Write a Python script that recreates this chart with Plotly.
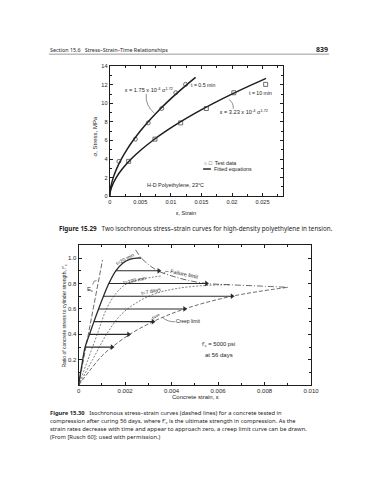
import plotly.graph_objects as go

W, H = 368, 480

# ---------------- Figure 15.29 data ----------------
stress_a = [0, 0.5, 1, 2, 3, 4, 5, 6, 7, 8, 9, 10, 11, 12, 12.8]
strain_a = [0, 0.000053, 0.000175, 0.000576, 0.001158, 0.001899, 0.002788, 0.003815,
            0.004974, 0.006257, 0.007661, 0.009184, 0.01082, 0.01257, 0.01404]
stress_b = [0, 0.5, 1, 2, 3, 4, 5, 6, 7, 8, 9, 10, 11, 12, 12.7]
strain_b = [0, 0.000098, 0.000323, 0.001064, 0.002137, 0.003505, 0.005145, 0.007041,
            0.00918, 0.01155, 0.01414, 0.01695, 0.01997, 0.02319, 0.02557]
test_a_strain = [0.0015, 0.0042, 0.0063, 0.0085, 0.0108, 0.0124]
test_a_stress = [3.75, 6.15, 7.9, 9.45, 11.15, 12.05]
test_b_strain = [0.0031, 0.0074, 0.0116, 0.0158, 0.0203, 0.0255]
test_b_stress = [3.75, 6.15, 7.9, 9.45, 11.15, 12.05]
x1_ticks = [0, 0.005, 0.01, 0.015, 0.02, 0.025]
x1_labels = ["0", "0.005", "0.01", "0.015", "0.02", "0.025"]
y1_ticks = [0, 2, 4, 6, 8, 10, 12, 14]

# ---------------- Figure 15.30 data ----------------
inst_strain = [0, 0.00005, 0.00015, 0.00028, 0.00047, 0.00066, 0.00086, 0.00107,
               0.0013, 0.0016, 0.0019, 0.0022, 0.0025, 0.0027]
inst_ratio = [0, 0.06, 0.17, 0.3, 0.4, 0.5, 0.6, 0.7, 0.8, 0.9, 0.96, 0.99, 1.0, 1.0]
ec_strain = [0, 0.00103]
ec_ratio = [0, 0.985]
t100_strain = [0, 0.0004, 0.0008, 0.0012, 0.0016, 0.002, 0.0026, 0.0032, 0.0036]
t100_ratio = [0, 0.2, 0.4, 0.6, 0.72, 0.79, 0.83, 0.85, 0.86]
t7d_strain = [0, 0.0006, 0.0012, 0.0018, 0.0025, 0.0033, 0.0042, 0.0055, 0.0065]
t7d_ratio = [0, 0.2, 0.4, 0.55, 0.65, 0.72, 0.76, 0.785, 0.79]
creep_strain = [0, 0.0005, 0.001, 0.00144, 0.0022, 0.0032, 0.00456, 0.0066, 0.009]
creep_ratio = [0, 0.12, 0.23, 0.3, 0.4, 0.5, 0.6, 0.7, 0.77]
fail_strain = [0.00245, 0.0027, 0.003, 0.0034, 0.004, 0.0047, 0.0055, 0.0065, 0.0078, 0.009]
fail_ratio = [1.065, 1.0, 0.95, 0.9, 0.86, 0.825, 0.8, 0.79, 0.78, 0.77]
arrow_ratio = [0.3, 0.4, 0.5, 0.6, 0.7, 0.8, 0.9]
arrow_start = [0.00028, 0.00047, 0.00066, 0.00086, 0.00107, 0.0013, 0.0016]
arrow_end = [0.00144, 0.00215, 0.0032, 0.00456, 0.0066, 0.0055, 0.00345]
x2_ticks = [0, 0.002, 0.004, 0.006, 0.008, 0.010]
x2_labels = ["0", "0.002", "0.004", "0.006", "0.008", "0.010"]
y2_ticks = [0.2, 0.4, 0.6, 0.8, 1.0]
y2_labels = ["0.2", "0.4", "0.6", "0.8", "1.0"]


def px(x):
    return x / W


def py(y):
    return 1 - y / H


INK = "#1e1e1e"
SANS = "Liberation Sans, Arial, sans-serif"
BOOK = "Noto Sans, Open Sans, sans-serif"

fig = go.Figure()

# Fig 15.29 curves
for xs, ys in [(strain_a, stress_a), (strain_b, stress_b)]:
    fig.add_trace(go.Scatter(x=xs, y=ys, mode="lines", line=dict(color=INK, width=1.5, shape="spline"),
                             xaxis="x", yaxis="y", showlegend=False, hoverinfo="skip"))
fig.add_trace(go.Scatter(x=test_a_strain, y=test_a_stress, mode="markers",
                         marker=dict(symbol="circle-open", size=4, color="#333", line=dict(width=0.7)),
                         xaxis="x", yaxis="y", showlegend=False))
fig.add_trace(go.Scatter(x=test_b_strain, y=test_b_stress, mode="markers",
                         marker=dict(symbol="square-open", size=4, color="#333", line=dict(width=0.7)),
                         xaxis="x", yaxis="y", showlegend=False))

# Fig 15.30 curves
LC = "#2a2a2a"
fig.add_trace(go.Scatter(x=inst_strain, y=inst_ratio, mode="lines",
                         line=dict(color=LC, width=1.3, shape="spline"),
                         xaxis="x2", yaxis="y2", showlegend=False))
fig.add_trace(go.Scatter(x=ec_strain, y=ec_ratio, mode="lines",
                         line=dict(color=LC, width=0.7, dash="5px,2px"),
                         xaxis="x2", yaxis="y2", showlegend=False))
for xs, ys in [(t100_strain, t100_ratio), (t7d_strain, t7d_ratio)]:
    fig.add_trace(go.Scatter(x=xs, y=ys, mode="lines",
                             line=dict(color=LC, width=0.6, dash="2px,1.5px", shape="spline"),
                             xaxis="x2", yaxis="y2", showlegend=False))
fig.add_trace(go.Scatter(x=creep_strain, y=creep_ratio, mode="lines",
                         line=dict(color=LC, width=0.7, dash="4px,2px", shape="spline"),
                         xaxis="x2", yaxis="y2", showlegend=False))
fig.add_trace(go.Scatter(x=fail_strain, y=fail_ratio, mode="lines",
                         line=dict(color=LC, width=0.7, dash="6px,2px,1px,2px", shape="spline"),
                         xaxis="x2", yaxis="y2", showlegend=False))
for r, s, e in zip(arrow_ratio, arrow_start, arrow_end):
    fig.add_trace(go.Scatter(x=[s, e], y=[r, r], mode="lines", line=dict(color=LC, width=1.1),
                             xaxis="x2", yaxis="y2", showlegend=False))
fig.add_trace(go.Scatter(x=arrow_end, y=arrow_ratio, mode="markers",
                         marker=dict(symbol="triangle-right", size=5, color=LC),
                         xaxis="x2", yaxis="y2", showlegend=False))

axis_common = dict(showgrid=False, zeroline=False, showline=True, linecolor=INK, linewidth=1,
                   mirror="ticks", ticks="inside", ticklen=3, tickcolor=INK, tickwidth=0.8)

fig.update_layout(
    width=W, height=H, margin=dict(l=0, r=0, t=0, b=0),
    paper_bgcolor="white", plot_bgcolor="white", showlegend=False,
    xaxis=dict(domain=[px(102.5), px(281)], range=[0, 0.0284], anchor="y",
               tickvals=x1_ticks, ticktext=x1_labels,
               tickfont=dict(family=SANS, size=5.6, color=INK),
               minor=dict(dtick=0.0025, ticks="inside", ticklen=2, tickcolor=INK),
               **axis_common),
    yaxis=dict(domain=[py(187.5), py(56)], range=[0, 14], anchor="x",
               tickvals=y1_ticks, tickfont=dict(family=SANS, size=5.6, color=INK),
               minor=dict(dtick=1, ticks="inside", ticklen=2, tickcolor=INK),
               **axis_common),
    xaxis2=dict(domain=[px(70.5), px(309.5)], range=[0, 0.0100], anchor="y2",
                tickvals=x2_ticks, ticktext=x2_labels,
                tickfont=dict(family=SANS, size=6, color=INK),
                minor=dict(dtick=0.001, ticks="inside", ticklen=2, tickcolor=INK),
                **axis_common),
    yaxis2=dict(domain=[py(379), py(237.3)], range=[0, 1.1], anchor="x2",
                tickvals=y2_ticks, ticktext=y2_labels,
                tickfont=dict(family=SANS, size=6, color=INK),
                minor=dict(dtick=0.1, ticks="inside", ticklen=2, tickcolor=INK),
                **axis_common),
)

ann = []


def text(x, y, t, size=5, xanchor="left", angle=0, family=SANS, color=INK):
    ann.append(dict(x=px(x), y=py(y), xref="paper", yref="paper", text=t, showarrow=False,
                    xanchor=xanchor, yanchor="middle", textangle=angle, borderpad=0,
                    font=dict(family=family, size=size, color=color)))


# header
text(40, 39, "Section 15.6&nbsp;&nbsp;&nbsp;Stress–Strain–Time Relationships", size=5.4, family=BOOK)
text(328, 39, "<b>839</b>", size=7, xanchor="right", family=BOOK)

# fig 15.29 texts
text(117, 79.3, "ε = 1.75 x 10<sup>-4</sup> σ<sup>1.72</sup>", size=5.6)
text(185, 75, "t = 0.5 min", size=5.2)
text(245, 83.3, "t = 10 min", size=5.2)
text(215, 101.7, "ε = 3.23 x 10<sup>-4</sup> σ<sup>1.72</sup>", size=5.6)
text(198, 154, "○ □&nbsp;&nbsp;Test data", size=5.3)
text(209, 160, "Fitted equations", size=5.3)
text(139.3, 176.7, "H-D Polyethylene, 23°C", size=5.4)
text(87.7, 126.7, "σ, Stress, MPa", size=6, xanchor="center", angle=-90)
text(181.3, 205, "ε, Strain", size=5.6, xanchor="center")
text(49, 220, "<b>Figure 15.29</b>&nbsp;&nbsp;&nbsp;Two isochronous stress–strain curves for high-density polyethylene in tension.",
     size=6.3, family=BOOK)

# fig 15.30 texts
text(118.3, 251, "t=20 min", size=5.1, xanchor="center", angle=-28)
text(179, 266.7, "Failure limit", size=5.5, xanchor="center", angle=12)
text(128.3, 272, "t=100 min", size=5.2, xanchor="center", angle=-12)
text(145, 283.5, "t=7 days", size=5.2, xanchor="center", angle=-12)
text(150, 309.3, "t=∞", size=5, xanchor="center", angle=-30)
text(183.3, 313.7, "Creep limit", size=5, xanchor="center")
text(82, 282, "E<sub>c</sub>", size=6, xanchor="center")
text(214.3, 338, "f′<sub>c</sub> = 5000 psi", size=5.8, xanchor="center")
text(215, 348.7, "at 56 days", size=6, xanchor="center")
text(56, 309, "Ratio of concrete stress to cylinder strength, f′<sub>c</sub>", size=5,
     xanchor="center", angle=-90)
text(191, 391, "Concrete strain, ε", size=6, xanchor="center")

cap = [
    "<b>Figure 15.30</b>&nbsp;&nbsp;&nbsp;Isochronous stress–strain curves (dashed lines) for a concrete tested in",
    "compression after curing 56 days, where f′<sub>c</sub> is the ultimate strength in compression. As the",
    "strain rates decrease with time and appear to approach zero, a creep limit curve can be drawn.",
    "(From [Rusch 60]; used with permission.)",
]
for i, line in enumerate(cap):
    text(40, 407.3 + 8 * i, line, size=5.8, family=BOOK)

fig.update_layout(annotations=ann)

shapes = [
    dict(type="line", xref="paper", yref="paper", x0=px(40), x1=px(328), y0=py(43.7), y1=py(43.7),
         line=dict(color="#555", width=0.6)),
    dict(type="line", xref="paper", yref="paper", x0=px(198.5), x1=px(206.5), y0=py(160), y1=py(160),
         line=dict(color=INK, width=1.4)),
    dict(type="path", xref="paper", yref="paper",
         path=f"M {px(140)},{py(84)} Q {px(139)},{py(96)} {px(148.3)},{py(103.3)}",
         line=dict(color=INK, width=0.5)),
    dict(type="path", xref="paper", yref="paper",
         path=f"M {px(225)},{py(89.5)} Q {px(230)},{py(93)} {px(229.5)},{py(99)}",
         line=dict(color=INK, width=0.5)),
    dict(type="path", xref="paper", yref="paper",
         path=f"M {px(156.7)},{py(310.3)} Q {px(162)},{py(315)} {px(170)},{py(314.7)}",
         line=dict(color=INK, width=0.5)),
    dict(type="path", xref="paper", yref="paper",
         path=f"M {px(85)},{py(277)} Q {px(86)},{py(272)} {px(89)},{py(273)}",
         line=dict(color=INK, width=0.5)),
    dict(type="path", xref="paper", yref="paper",
         path=f"M {px(163)},{py(264)} Q {px(160)},{py(262)} {px(158)},{py(266)}",
         line=dict(color=INK, width=0.5)),
]
fig.update_layout(shapes=shapes)

fig.write_html("out.html")
